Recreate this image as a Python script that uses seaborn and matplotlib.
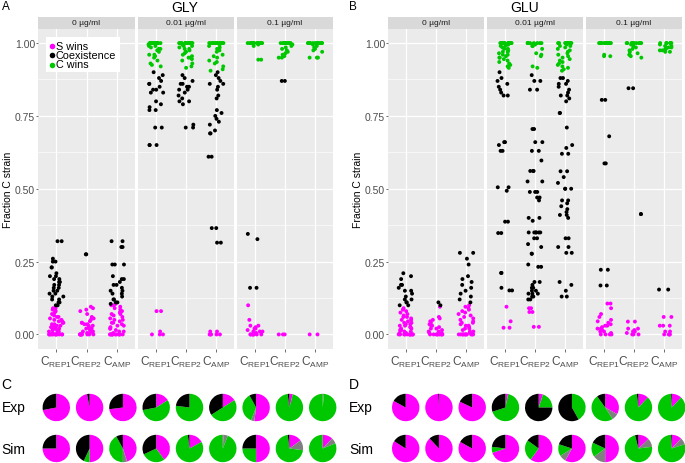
import numpy as np
import pandas as pd
import matplotlib
matplotlib.use('Agg')
import matplotlib.pyplot as plt
from matplotlib.patches import Rectangle
from matplotlib.lines import Line2D
import seaborn as sns

# facets / categories
concs = ['0 µg/ml', '0.01 µg/ml', '0.1 µg/ml']
strains = ['REP1', 'REP2', 'AMP']
strain_labels = [r'C$_{\mathregular{REP1}}$', r'C$_{\mathregular{REP2}}$', r'C$_{\mathregular{AMP}}$']
outcomes = ['S wins', 'Coexistence', 'C wins']
palette = {'S wins': '#FF00FF', 'Coexistence': '#000000', 'C wins': '#00C800'}

# fraction of C strain per replicate, 9 groups: (conc x strain)
gly_s = [
    [0, 0, 0, 0, 0, 0, 0, 0, 0, 0, 0, 0, 0.005, 0.005, 0.01, 0.01, 0.01, 0.015, 0.015, 0.02, 0.02, 0.02, 0.025, 0.025,
     0.03, 0.03, 0.03, 0.035, 0.035, 0.04, 0.04, 0.045, 0.045, 0.05, 0.05, 0.055, 0.06, 0.06, 0.065, 0.07, 0.075, 0.08,
     0.085, 0.09, 0.09],
    [0, 0, 0, 0, 0, 0, 0, 0, 0, 0, 0.005, 0.005, 0.01, 0.01, 0.01, 0.015, 0.02, 0.02, 0.02, 0.025, 0.03, 0.03, 0.035,
     0.035, 0.04, 0.04, 0.045, 0.05, 0.055, 0.06, 0.07, 0.08, 0.085, 0.09, 0.095],
    [0, 0, 0, 0, 0, 0, 0, 0, 0, 0, 0, 0, 0.005, 0.01, 0.01, 0.015, 0.02, 0.02, 0.025, 0.03, 0.03, 0.035, 0.04, 0.04,
     0.045, 0.05, 0.05, 0.055, 0.06, 0.065, 0.07, 0.07, 0.075, 0.08, 0.085, 0.09, 0.095, 0.1, 0.1, 0.105],
    [0.08, 0.08, 0.01, 0, 0, 0],
    [],
    [0.01, 0.01, 0, 0, 0, 0, 0],
    [0.1, 0.05, 0.03, 0.03, 0.025, 0.02, 0.02, 0.015, 0.01, 0.01, 0.01, 0.005, 0, 0, 0, 0, 0, 0, 0, 0],
    [0, 0, 0],
    [0, 0],
]
gly_coex = [
    [0.32, 0.32, 0.26, 0.25, 0.25, 0.23, 0.23, 0.21, 0.2, 0.2, 0.19, 0.19, 0.18, 0.18, 0.17, 0.17, 0.16, 0.16, 0.15,
     0.15, 0.14, 0.14, 0.13, 0.13, 0.12, 0.12, 0.11, 0.11, 0.1, 0.1],
    [0.275, 0.275],
    [0.32, 0.32, 0.3, 0.3, 0.24, 0.24, 0.24, 0.2, 0.19, 0.19, 0.18, 0.17, 0.17, 0.16, 0.15, 0.15, 0.14, 0.14, 0.13,
     0.12, 0.12, 0.11, 0.11, 0.105],
    [0.9, 0.89, 0.88, 0.87, 0.86, 0.86, 0.85, 0.84, 0.84, 0.83, 0.83, 0.8, 0.79, 0.78, 0.77, 0.77, 0.71, 0.71, 0.65,
     0.65, 0.65],
    [0.89, 0.88, 0.87, 0.86, 0.86, 0.85, 0.85, 0.84, 0.84, 0.83, 0.82, 0.81, 0.8, 0.8, 0.79, 0.72, 0.71, 0.71],
    [0.9, 0.89, 0.88, 0.87, 0.86, 0.86, 0.85, 0.84, 0.82, 0.81, 0.77, 0.76, 0.75, 0.74, 0.73, 0.72, 0.7, 0.69, 0.69,
     0.61, 0.61, 0.365, 0.365, 0.315, 0.315],
    [0.345, 0.327, 0.16, 0.16],
    [0.87, 0.87],
    [],
]
gly_c = [
    [], [], [],
    [1, 1, 1, 1, 1, 1, 1, 1, 1, 1, 1, 1, 1, 1, 1, 0.995, 0.99, 0.99, 0.985, 0.98, 0.98, 0.975, 0.97, 0.96, 0.96,
     0.955, 0.95, 0.94, 0.93, 0.925, 0.92],
    [1, 1, 1, 1, 1, 1, 1, 1, 1, 1, 1, 1, 1, 1, 1, 1, 1, 1, 0.995, 0.99, 0.99, 0.985, 0.98, 0.98, 0.975, 0.97, 0.97,
     0.965, 0.96, 0.955, 0.95, 0.95, 0.945, 0.94, 0.93, 0.92, 0.915],
    [1, 1, 1, 1, 1, 1, 1, 1, 1, 1, 1, 1, 1, 1, 0.995, 0.99, 0.985, 0.98, 0.975, 0.97, 0.96, 0.955, 0.95, 0.94, 0.935,
     0.93, 0.92, 0.91, 0.905],
    [1, 1, 1, 1, 1, 1, 1, 1, 1, 1, 1, 1, 1, 1, 0.995, 0.99, 0.943, 0.943],
    [1, 1, 1, 1, 1, 1, 1, 1, 1, 1, 1, 1, 0.995, 0.99, 0.985, 0.98, 0.975, 0.97, 0.965, 0.96, 0.955, 0.95, 0.95],
    [1, 1, 1, 1, 1, 1, 1, 1, 1, 1, 1, 1, 0.995, 0.99, 0.985, 0.98, 0.975, 0.97, 0.95, 0.95, 0.95],
]

glu_s = [
    [0, 0, 0, 0, 0, 0, 0, 0, 0, 0, 0, 0, 0.005, 0.005, 0.01, 0.01, 0.015, 0.015, 0.02, 0.02, 0.025, 0.025, 0.03, 0.03,
     0.035, 0.035, 0.04, 0.04, 0.045, 0.05, 0.05, 0.055, 0.06, 0.06, 0.065, 0.07, 0.075, 0.08, 0.085, 0.09],
    [0, 0, 0, 0, 0, 0, 0, 0, 0, 0.005, 0.005, 0.01, 0.01, 0.015, 0.02, 0.02, 0.025, 0.03, 0.03, 0.035, 0.04, 0.045,
     0.05, 0.055, 0.06, 0.095],
    [0, 0, 0, 0, 0, 0, 0, 0, 0, 0, 0, 0.005, 0.01, 0.01, 0.015, 0.02, 0.02, 0.025, 0.03, 0.03, 0.035, 0.04, 0.04,
     0.045, 0.05, 0.055, 0.06, 0.065, 0.07, 0.075, 0.08, 0.085, 0.09, 0.095, 0.1],
    [0.095, 0.045, 0.023, 0.023],
    [0.09, 0.09, 0.077, 0.077, 0.026, 0.026],
    [],
    [0.106, 0.106, 0.09, 0.07, 0.06, 0.05, 0.045, 0.04, 0.035, 0.03, 0.03, 0.025, 0.02, 0.02, 0.015, 0.01, 0.01,
     0.005, 0, 0, 0, 0],
    [0.044, 0.044, 0.02, 0.02, 0.015, 0.01, 0.01, 0.005, 0, 0, 0],
    [0.06, 0.06, 0.03, 0.03, 0.03, 0.01, 0.01, 0, 0, 0, 0],
]
glu_coex = [
    [0.21, 0.2, 0.19, 0.17, 0.17, 0.16, 0.15, 0.15, 0.14, 0.13, 0.12, 0.12, 0.11, 0.11, 0.1, 0.1],
    [0.11, 0.1],
    [0.28, 0.28, 0.26, 0.24, 0.2, 0.19, 0.18, 0.17, 0.16, 0.15, 0.14, 0.13, 0.12, 0.11],
    [0.9, 0.88, 0.87, 0.86, 0.85, 0.84, 0.83, 0.82, 0.82, 0.66, 0.66, 0.65, 0.63, 0.63, 0.505, 0.505, 0.493, 0.387,
     0.387, 0.348, 0.348, 0.211, 0.211, 0.16, 0.151, 0.151],
    [0.89, 0.87, 0.87, 0.84, 0.84, 0.705, 0.705, 0.66, 0.66, 0.63, 0.63, 0.597, 0.561, 0.561, 0.561, 0.525, 0.525,
     0.489, 0.489, 0.489, 0.47, 0.47, 0.46, 0.4, 0.4, 0.39, 0.35, 0.35, 0.35, 0.35, 0.35, 0.35, 0.33, 0.33, 0.31, 0.3,
     0.277, 0.277, 0.24, 0.232, 0.232, 0.18, 0.18, 0.17, 0.16, 0.16, 0.15, 0.15, 0.14, 0.14, 0.14, 0.13, 0.13, 0.12,
     0.12],
    [0.88, 0.88, 0.87, 0.86, 0.86, 0.85, 0.84, 0.83, 0.82, 0.82, 0.81, 0.8, 0.76, 0.76, 0.71, 0.65, 0.64, 0.62, 0.62,
     0.56, 0.56, 0.54, 0.52, 0.5, 0.5, 0.5, 0.46, 0.46, 0.45, 0.44, 0.43, 0.42, 0.41, 0.41, 0.4, 0.33, 0.33, 0.3, 0.3,
     0.28, 0.28, 0.18, 0.17, 0.15, 0.13, 0.13],
    [0.805, 0.805, 0.68, 0.587, 0.587, 0.222, 0.222, 0.168, 0.168],
    [0.845, 0.845, 0.413, 0.413],
    [0.154, 0.154],
]
glu_c = [
    [], [], [],
    [1, 1, 1, 1, 1, 1, 1, 1, 1, 1, 1, 1, 0.995, 0.995, 0.99, 0.99, 0.985, 0.98, 0.98, 0.975, 0.97, 0.97, 0.965, 0.96,
     0.96, 0.955, 0.95, 0.95, 0.945, 0.94, 0.935, 0.93, 0.925, 0.92, 0.915],
    [1, 1, 1, 1, 1, 1, 1, 1, 0.995, 0.99, 0.99, 0.98, 0.965, 0.96, 0.955, 0.92, 0.915],
    [1, 1, 1, 1, 1, 1, 1, 1, 1, 1, 1, 1, 0.995, 0.99, 0.99, 0.985, 0.98, 0.975, 0.97, 0.965, 0.96, 0.955, 0.95, 0.945,
     0.94, 0.935, 0.93, 0.925, 0.92, 0.915, 0.91, 0.905],
    [1, 1, 1, 1, 1, 1, 1, 1, 1, 1, 1, 1, 1, 1, 0.96, 0.955, 0.955],
    [1, 1, 1, 1, 1, 1, 1, 1, 1, 1, 0.995, 0.99, 0.985, 0.98, 0.975, 0.97, 0.965, 0.96, 0.96, 0.955, 0.95],
    [1, 1, 1, 1, 1, 1, 1, 1, 0.995, 0.99, 0.99, 0.985, 0.985, 0.98, 0.98, 0.975, 0.975, 0.97, 0.97],
]

# pie fractions: [S wins, undetermined, C wins, coexistence]
pie_colors = ['#FF00FF', '#808080', '#00C800', '#000000']
pie_gly_exp = [[0.72, 0, 0, 0.28], [0.97, 0, 0, 0.03], [0.73, 0, 0, 0.27],
               [0.16, 0, 0.56, 0.28], [0, 0, 0.77, 0.23], [0.16, 0, 0.50, 0.34],
               [0.52, 0.04, 0.36, 0.08], [0.04, 0, 0.94, 0.02], [0, 0.015, 0.985, 0]]
pie_gly_sim = [[0.75, 0, 0, 0.25], [0.50, 0, 0.07, 0.43], [0.45, 0.05, 0.42, 0.08],
               [0.40, 0, 0.28, 0.32], [0.17, 0, 0.81, 0.02], [0.01, 0.05, 0.94, 0],
               [0.50, 0, 0.25, 0.25], [0.15, 0.12, 0.71, 0.02], [0.12, 0.07, 0.81, 0]]
pie_glu_exp = [[0.83, 0, 0, 0.17], [0.99, 0, 0, 0.01], [0.82, 0, 0, 0.18],
               [0.03, 0, 0.67, 0.30], [0.05, 0, 0.20, 0.75], [0, 0, 0.42, 0.58],
               [0.33, 0.08, 0.49, 0.10], [0.12, 0, 0.86, 0.02], [0.12, 0, 0.87, 0.01]]
pie_glu_sim = [[0.84, 0, 0, 0.16], [0.88, 0, 0, 0.12], [0.83, 0, 0, 0.17],
               [0.70, 0, 0.07, 0.23], [0.60, 0, 0.25, 0.15], [0.58, 0.08, 0.14, 0.20],
               [0.50, 0.15, 0.17, 0.18], [0.13, 0.10, 0.73, 0.04], [0.12, 0.08, 0.79, 0.01]]


def to_frame(s_lists, coex_lists, c_lists):
    """long format table: conc, strain, outcome, frac"""
    rows = []
    for i, groups in enumerate(zip(s_lists, coex_lists, c_lists)):
        for outcome, vals in zip(outcomes, groups):
            for v in vals:
                rows.append((concs[i // 3], strains[i % 3], outcome, v))
    return pd.DataFrame(rows, columns=['conc', 'strain', 'outcome', 'frac'])


plt.rcParams['font.family'] = ['Liberation Sans', 'DejaVu Sans']
W, H = 685, 464
fig = plt.figure(figsize=(W / 100, H / 100), dpi=100)


def fx(px):
    return px / W


def fy(py):
    return 1 - py / H


PLOT_TOP, PLOT_BOT = 29.5, 350
np.random.seed(3)


def draw_panel(df, facet_x, title, letter, title_x, letter_x, ylab_x):
    for j, (x0, x1) in enumerate(facet_x):
        ax = fig.add_axes([fx(x0), fy(PLOT_BOT), fx(x1 - x0), (PLOT_BOT - PLOT_TOP) / H])
        sub = df[df.conc == concs[j]]
        sns.stripplot(data=sub, x='strain', y='frac', hue='outcome', order=strains,
                      hue_order=outcomes, palette=palette, jitter=0.25, size=2.8,
                      linewidth=0, legend=False, ax=ax, zorder=3)
        ax.set_facecolor('#EBEBEB')
        ax.set_xlim(-0.6, 2.6)
        ax.set_ylim(-0.05, 1.05)
        ax.set_xticks([0, 1, 2])
        ax.set_xticklabels(strain_labels, fontsize=8.6, color='#4D4D4D')
        ax.set_yticks([0, 0.25, 0.5, 0.75, 1.0])
        ax.set_yticks([0.125, 0.375, 0.625, 0.875], minor=True)
        ax.grid(True, which='major', color='white', linewidth=0.9)
        ax.grid(True, which='minor', axis='y', color='white', linewidth=0.45)
        ax.set_axisbelow(True)
        ax.tick_params(axis='x', length=1.8, width=0.5, color='#333333', pad=1.5)
        ax.tick_params(axis='y', which='minor', length=0)
        if j == 0:
            ax.set_yticklabels(['0.00', '0.25', '0.50', '0.75', '1.00'], fontsize=7.5, color='#4D4D4D')
            ax.tick_params(axis='y', length=1.5, width=0.5, color='#333333', pad=0.6)
        else:
            ax.tick_params(axis='y', length=0, labelleft=False)
        ax.set_xlabel('')
        ax.set_ylabel('')
        for sp in ax.spines.values():
            sp.set_visible(False)
        # facet strip
        fig.add_artist(Rectangle((fx(x0), fy(PLOT_TOP)), fx(x1 - x0), 11.5 / H,
                                 transform=fig.transFigure, facecolor='#D9D9D9', edgecolor='none'))
        fig.text(fx((x0 + x1) / 2), fy(23.5), concs[j], fontsize=6, color='#1A1A1A',
                 ha='center', va='center')
    fig.text(fx(title_x), fy(7.5), title, fontsize=10, ha='center', va='center')
    fig.text(fx(letter_x), fy(7.5), letter, fontsize=8.5, ha='left', va='center')
    fig.text(fx(ylab_x), fy((PLOT_TOP + PLOT_BOT) / 2), 'Fraction C strain', fontsize=7.5,
             rotation=90, ha='center', va='center')


gly = to_frame(gly_s, gly_coex, gly_c)
glu = to_frame(glu_s, glu_coex, glu_c)

draw_panel(gly, [(38, 135), (138, 234), (237, 333)], 'GLY', 'A', 185, 1.5, 8.5)
draw_panel(glu, [(388, 484), (487, 583), (586, 682)], 'GLU', 'B', 525, 349, 358)

# legend box (inside first GLY facet)
fig.add_artist(Rectangle((fx(46), fy(73)), fx(74), 35 / H, transform=fig.transFigure,
                         facecolor='white', edgecolor='none', zorder=5))
for k, (lab, yy) in enumerate(zip(outcomes, [46.5, 56, 65.5])):
    fig.add_artist(Line2D([fx(51.5)], [fy(yy)], marker='o', markersize=4, linestyle='none',
                          markerfacecolor=palette[lab], markeredgewidth=0,
                          transform=fig.transFigure, zorder=6))
    fig.text(fx(56), fy(yy), lab, fontsize=7.8, ha='left', va='center', zorder=6)


# pie rows
def draw_pies(rows, xs, y_exp, y_sim):
    r = 13.7
    for yc, row in zip([y_exp, y_sim], rows):
        for xc, fr in zip(xs, row):
            pax = fig.add_axes([fx(xc - r), fy(yc + r), fx(2 * r), 2 * r / H])
            pax.pie(fr, colors=pie_colors, startangle=90, counterclock=False, radius=1,
                    wedgeprops=dict(linewidth=0))
            pax.set_xlim(-1, 1)
            pax.set_ylim(-1, 1)
            pax.set_aspect('equal')
            pax.axis('off')


xs_a = [56.3 + 33.3 * i for i in range(9)]
xs_b = [405.7 + 33.25 * i for i in range(9)]
draw_pies([pie_gly_exp, pie_gly_sim], xs_a, 408.5, 449.5)
draw_pies([pie_glu_exp, pie_glu_sim], xs_b, 408.5, 449.5)

for x0, letter in [(1.5, 'C'), (349, 'D')]:
    fig.text(fx(x0), fy(385), letter, fontsize=10, ha='left', va='center')
    fig.text(fx(x0), fy(408), 'Exp', fontsize=10, ha='left', va='center')
    fig.text(fx(x0), fy(450), 'Sim', fontsize=10, ha='left', va='center')

fig.savefig('out.png', dpi=100)
